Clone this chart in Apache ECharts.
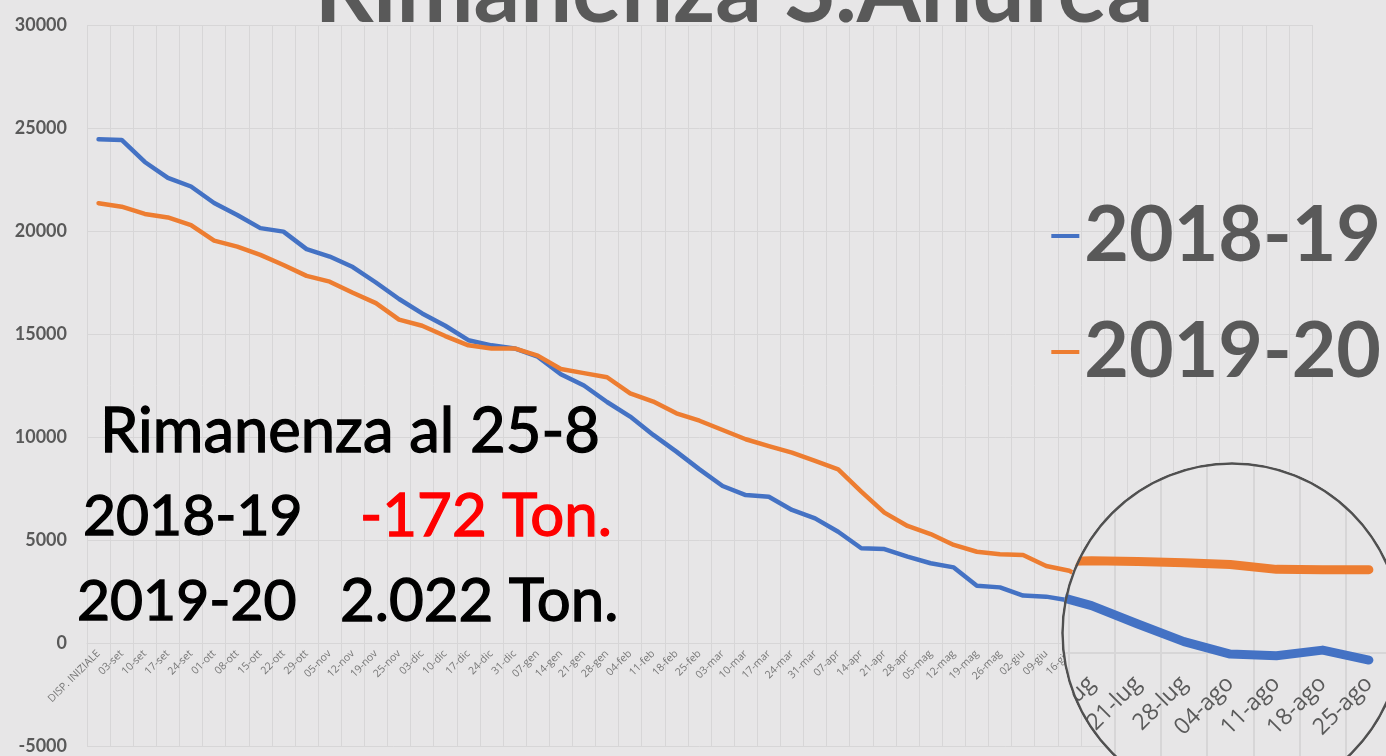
<!DOCTYPE html>
<html>
<head>
<meta charset="utf-8">
<script src="https://cdn.jsdelivr.net/npm/echarts@6/dist/echarts.min.js"></script>
<style>
html,body{margin:0;padding:0;overflow:hidden;background:#e7e6e7;}
#main{position:absolute;left:0;top:0;width:1386px;height:756px;}
#lens{position:absolute;left:0;top:0;width:1386px;height:756px;background:#e7e6e7;clip-path:circle(171px at 1232px 633px);}
</style>
</head>
<body>
<div id="main"></div>
<div id="lens"></div>
<script>
const categories = ['DISP. INIZIALE','03-set','10-set','17-set','24-set','01-ott','08-ott','15-ott','22-ott','29-ott',
'05-nov','12-nov','19-nov','25-nov','03-dic','10-dic','17-dic','24-dic','31-dic','07-gen','14-gen','21-gen','28-gen',
'04-feb','11-feb','18-feb','25-feb','03-mar','10-mar','17-mar','24-mar','31-mar','07-apr','14-apr','21-apr','28-apr',
'05-mag','12-mag','19-mag','26-mag','02-giu','09-giu','16-giu','23-giu','30-giu','07-lug','14-lug','21-lug','28-lug',
'04-ago','11-ago','18-ago','25-ago'];

const s2018 = [24450,24420,23350,22580,22160,21360,20780,20140,19970,19120,
18760,18250,17500,16700,16000,15400,14700,14450,14300,13900,13050,12500,11700,
10990,10100,9290,8430,7620,7180,7100,6460,6050,5400,4600,4560,4190,
3870,3670,2780,2700,2300,2250,2060,1850,1650,1460,1150,705,275,
-25,-65,70,-172];

const s2019 = [21350,21180,20830,20660,20290,19530,19240,18840,18350,17820,
17540,17000,16500,15700,15400,14900,14450,14300,14300,13950,13300,13100,12900,
12120,11720,11150,10790,10340,9890,9560,9240,8840,8430,7350,6330,5680,
5290,4760,4430,4310,4270,3740,3510,2900,2400,2210,2240,2220,2190,
2150,2030,2020,2022];

const seriesNames = ['2018-19','2019-20'];
const yTicks = {min:-5000, max:30000, interval:5000};
const titleText = 'Rimanenza S.Andrea';
const noteLines = ['Rimanenza al 25-8','2018-19','-172 Ton.','2019-20','2.022 Ton.'];

const BG = '#e7e6e7', GRID = '#d7d6d7', BLUE = '#4472c4', ORANGE = '#ed7d31', DARK = '#595959';
const FONT = 'Lato, "Open Sans", sans-serif';

// Main chart layout
const G = {left:87, top:25, width:1225, height:721};
// Lens: 2x magnification around (LX, LY)
const LX = 1232, LY = 633, LR = 171, MAG = 2;
const LG = {left: LX + MAG*(G.left-LX), top: LY + MAG*(G.top-LY), width: G.width*MAG, height: G.height*MAG};
// distance from the grid bottom up to the value-0 line (axis sits on 0, as in Excel)
function zeroOffset(h){ return -h * (0 - yTicks.min) / (yTicks.max - yTicks.min); }

function makeOption(grid, scale, isLens){
  const opt = {
    backgroundColor: isLens ? 'transparent' : BG,
    animation: false,
    grid: {left: grid.left, top: grid.top, width: grid.width, height: grid.height,
           containLabel:false, outerBoundsMode:'none'},
    xAxis: {
      type:'category', data: categories, boundaryGap: true, position:'bottom',
      offset: zeroOffset(grid.height),
      axisLine: {show:true, onZero:false, lineStyle:{color:GRID, width: scale}},
      axisTick: {show:false},
      splitLine: {show:true, interval:0, lineStyle:{color:GRID, width: scale}},
      axisLabel: {interval:0, rotate:45, fontSize: isLens ? 23 : 10.5, color: isLens ? '#5a5a5a' : '#777777',
                  fontFamily: '"Open Sans", sans-serif', margin: isLens ? 27 : 9, hideOverlap:false}
    },
    yAxis: {
      type:'value', min:yTicks.min, max:yTicks.max, interval:yTicks.interval,
      axisLine:{show:false}, axisTick:{show:false},
      splitLine:{show:true, lineStyle:{color:GRID, width: scale}},
      axisLabel:{show: !isLens, fontSize:18, fontWeight:'bold', color:DARK, fontFamily:FONT, margin:20,
                 formatter: function(v){ return String(v); }}
    },
    series: [
      {name: seriesNames[0], type:'line', data: s2018, symbol:'none', color: BLUE,
       lineStyle:{width: isLens ? 9 : 4.5, color: BLUE, cap:'round', join:'round'}},
      {name: seriesNames[1], type:'line', data: s2019, symbol:'none', color: ORANGE,
       lineStyle:{width: isLens ? 9 : 4.5, color: ORANGE, cap:'round', join:'round'}}
    ]
  };
  if (!isLens) {
    opt.legend = {
      data: seriesNames, orient:'vertical', right: 0, top: 183, itemGap: 20,
      icon:'rect', itemWidth: 28, itemHeight: 4, align:'left',
      textStyle:{fontSize: 77, lineHeight: 96, fontWeight:'bold', color: DARK, fontFamily: FONT}
    };
    const shadow = {shadowColor:'rgba(170,170,170,0.95)', shadowOffsetX:3, shadowOffsetY:3, shadowBlur:2};
    function note(text, x, y, fill, size){
      return {type:'text', x:x, y:y, z:100,
        style: Object.assign({text:text, fill:fill, stroke:fill, lineWidth:1.3,
          font:'normal ' + size + 'px ' + FONT, align:'left', verticalAlign:'middle'}, shadow)};
    }
    opt.graphic = [
      {type:'text', x:734, y:-8, z:100,
       style:{text:titleText, fill:DARK, font:'bold 92px ' + FONT, align:'center', verticalAlign:'middle'}},
      note(noteLines[0], 100, 432, '#000', 61.5),
      note(noteLines[1], 83, 517, '#000', 57),
      note(noteLines[2], 360, 517, '#ff0000', 60),
      note(noteLines[3], 77, 602, '#000', 57),
      note(noteLines[4], 340, 602, '#000', 60)
    ];
  } else {
    opt.graphic = [
      {type:'circle', z:100, shape:{cx:LX, cy:LY, r:LR-1.5},
       style:{fill:'none', stroke:'#505050', lineWidth:2.5}}
    ];
  }
  return opt;
}

const mainChart = echarts.init(document.getElementById('main'), null, {renderer:'canvas'});
mainChart.setOption(makeOption(G, 1, false));
const lensChart = echarts.init(document.getElementById('lens'), null, {renderer:'canvas'});
lensChart.setOption(makeOption(LG, 2, true));
</script>
</body>
</html>
